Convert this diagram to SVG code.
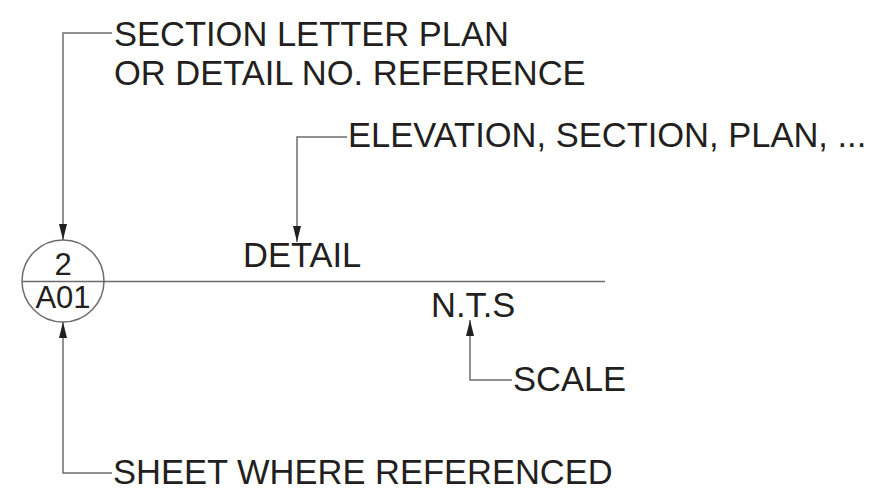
<svg xmlns="http://www.w3.org/2000/svg" width="885" height="499" viewBox="0 0 885 499">
<style>
text{font-family:"Liberation Sans",Arial,sans-serif;font-size:34.5px;fill:#231f20}
text.c{font-size:31px}
.ln{stroke:#6d6d6d;stroke-width:1.5;fill:none}
</style>
<defs>
<marker id="ar" viewBox="0 0 16 8" refX="16" refY="4" markerWidth="16" markerHeight="8" markerUnits="userSpaceOnUse" orient="auto">
<path d="M0,0L16,4L0,8Z" fill="#231f20"/>
</marker>
</defs>
<rect width="885" height="499" fill="#fff"/>
<g id="bubble">
<circle cx="63" cy="281" r="41" class="ln"/>
<line x1="22" y1="281.5" x2="605" y2="281.5" class="ln"/>
<text class="c" x="63" y="274.5" text-anchor="middle">2</text>
<text class="c" x="63" y="308" text-anchor="middle">A01</text>
</g>
<g id="title">
<text x="243" y="267">DETAIL</text>
<text x="431" y="317">N.T.S</text>
</g>
<g id="labels">
<text x="114" y="46">SECTION LETTER PLAN</text>
<text x="114" y="85">OR DETAIL NO. REFERENCE</text>
<text x="348" y="147">ELEVATION, SECTION, PLAN, ...</text>
<text x="513" y="391">SCALE</text>
<text x="113" y="484">SHEET WHERE REFERENCED</text>
</g>
<g id="connectors">
<path d="M112,33H63V240" class="ln" marker-end="url(#ar)"/>
<path d="M347,137H297V242" class="ln" marker-end="url(#ar)"/>
<path d="M512,380H470V320" class="ln" marker-end="url(#ar)"/>
<path d="M112,473H63V322" class="ln" marker-end="url(#ar)"/>
</g>
</svg>
